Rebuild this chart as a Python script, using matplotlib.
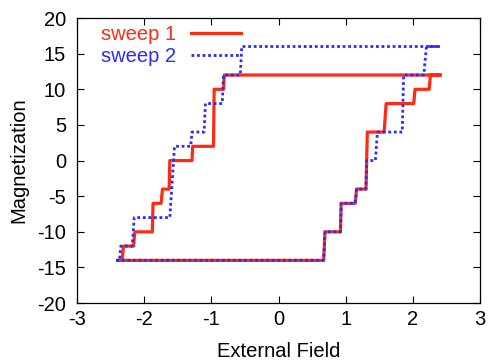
import matplotlib
matplotlib.use("Agg")
import matplotlib.pyplot as plt

# sweep 1 (red, solid): upper branch going left, then lower branch going right
sweep1_x = [2.40, -0.81, -0.82, -0.96, -0.97, -1.28, -1.29, -1.62, -1.63, -1.73,
            -1.75, -1.87, -1.88, -2.14, -2.16, -2.31, -2.33, -2.40,
            0.67, 0.69, 0.92, 0.93, 1.14, 1.16, 1.30, 1.32, 1.57, 1.60,
            2.01, 2.03, 2.24, 2.26, 2.40]
sweep1_y = [12, 12, 10, 10, 2, 2, 0, 0, -4, -4,
            -6, -6, -10, -10, -12, -12, -14, -14,
            -14, -10, -10, -6, -6, -4, -4, 4, 4, 8,
            8, 10, 10, 12, 12]

# sweep 2 (blue, dotted)
sweep2_x = [2.40, -0.55, -0.57, -0.82, -0.84, -1.09, -1.11, -1.29, -1.31, -1.55,
            -1.62, -2.15, -2.18, -2.35, -2.37, -2.40,
            0.67, 0.69, 0.92, 0.93, 1.14, 1.16, 1.30, 1.31, 1.44, 1.47,
            1.84, 1.86, 2.16, 2.20, 2.40]
sweep2_y = [16, 16, 12, 12, 8, 8, 4, 4, 2, 2,
            -8, -8, -12, -12, -14, -14,
            -14, -10, -10, -6, -6, -4, -4, 0, 0, 4,
            4, 12, 12, 16, 16]

x_ticks = [-3, -2, -1, 0, 1, 2, 3]
y_ticks = [-20, -15, -10, -5, 0, 5, 10, 15, 20]

plt.rcParams["font.family"] = ["Liberation Sans", "DejaVu Sans"]
plt.rcParams["font.size"] = 14.5
plt.rcParams["axes.unicode_minus"] = False

fig = plt.figure(figsize=(4.88, 3.6), dpi=100)
ax = fig.add_axes([0.158, 0.158, 0.826, 0.792])

ax.plot(sweep1_x, sweep1_y, color="#ff2a14", lw=2.3, label="sweep 1", zorder=2)
ax.plot(sweep2_x, sweep2_y, color="#2a2aff", lw=2.0, ls=(0, (1, 1)),
        label="sweep 2", zorder=3)

ax.set_xlim(-3, 3)
ax.set_ylim(-20, 20)
ax.set_xticks(x_ticks)
ax.set_yticks(y_ticks)
ax.tick_params(direction="in", length=5, width=0.8, top=True, right=True,
               labelsize=14.5)
ax.tick_params(axis="x", pad=5)
ax.tick_params(axis="y", pad=8)
for sp in ax.spines.values():
    sp.set_linewidth(0.9)

ax.set_xlabel("External Field", fontsize=14.5, labelpad=9)
ax.set_ylabel("Magnetization", fontsize=14.5, labelpad=6)

leg = ax.legend(loc="upper left", bbox_to_anchor=(0.035, 1.01), frameon=False,
                markerfirst=False, labelcolor="linecolor", handlelength=2.5,
                handletextpad=0.7, borderaxespad=0.1, labelspacing=0.15,
                fontsize=14.5)

fig.savefig("out.png", dpi=100)
